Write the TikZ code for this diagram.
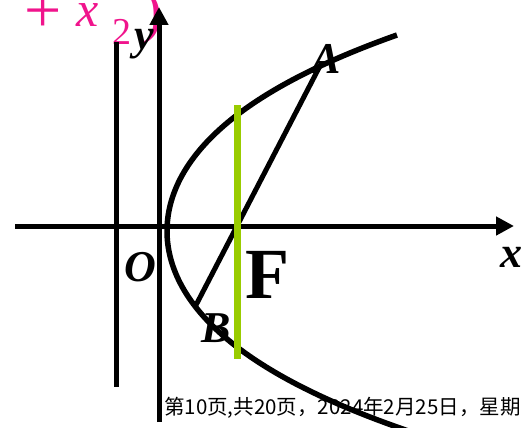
\documentclass[tikz,border=0pt]{standalone}
\usepackage{fontspec}
\setmainfont{Liberation Serif}
\newfontfamily\cjk{Noto Sans CJK SC}
\usetikzlibrary{arrows.meta}
\definecolor{pinkc}{RGB}{240,20,140}
\definecolor{greenc}{RGB}{153,204,0}
\tikzset{
  axisline/.style={line width=5pt, -{Triangle[length=18pt,width=18pt]}},
  blackline/.style={line width=5pt},
  curveline/.style={line width=5.5pt, line join=round},
  lbl/.style={inner sep=0pt, font=\fontsize{44}{44}\selectfont\bfseries\itshape},
  pinktxt/.style={inner sep=0pt, text=pinkc}
}
\begin{document}
\begin{tikzpicture}[x=1pt,y=-1pt]
\useasboundingbox (0,0) rectangle (527,428);
\clip (0,0) rectangle (527,428);
% pink formula fragment (cut by top edge)
\node[pinktxt, anchor=base west, font=\fontsize{66}{66}\selectfont] (plus) at (24,33) {+};
\node[pinktxt, anchor=base west, font=\fontsize{50}{50}\selectfont\itshape] (px) at (76,27) {x};
\node[pinktxt, anchor=base west, font=\fontsize{38}{38}\selectfont] (p2) at (112,45) {2};
\node[pinktxt, anchor=base west, font=\fontsize{60}{60}\selectfont] (ppar) at (142,32) {)};
% left vertical line
\coordinate (L1) at (116,42);
\coordinate (L2) at (116,387);
\draw[blackline] (L1) -- (L2);
% axes
\coordinate (X0) at (15,226);
\coordinate (X1) at (514,226);
\coordinate (Y0) at (159,422);
\coordinate (Y1) at (159,7);
\draw[axisline] (X0) -- (X1);
\draw[axisline] (Y0) -- (Y1);
% parabola
\draw[curveline] plot[domain=-1.96:2.2, samples=120, variable=\u]
  ({167+47.8*\u*\u+3.14*\u*\u*\u*\u}, {231+100*\u});
% chord
\coordinate (A) at (322,62);
\coordinate (B) at (195,307);
\draw[blackline] (A) -- (B);
% latus rectum
\coordinate (G1) at (237,105);
\coordinate (G2) at (237,359);
\draw[line width=7pt, greenc] (G1) -- (G2);
% labels
\node[lbl] (ylab) at (144,44) {y};
\node[lbl] (Alab) at (326,59) {A};
\node[lbl] (Olab) at (140,267) {O};
\node[lbl] (Blab) at (216,328) {B};
\node[lbl] (xlab) at (511,257) {x};
\node[inner sep=0pt, font=\fontsize{72}{72}\selectfont\bfseries] (Flab) at (267,275) {F};
% footer
\node[inner sep=0pt, anchor=base west, font=\cjk\fontsize{20.5}{20.5}\selectfont] (foot) at (164,414) {第10页,共20页，2024年2月25日，星期};
\end{tikzpicture}
\end{document}
